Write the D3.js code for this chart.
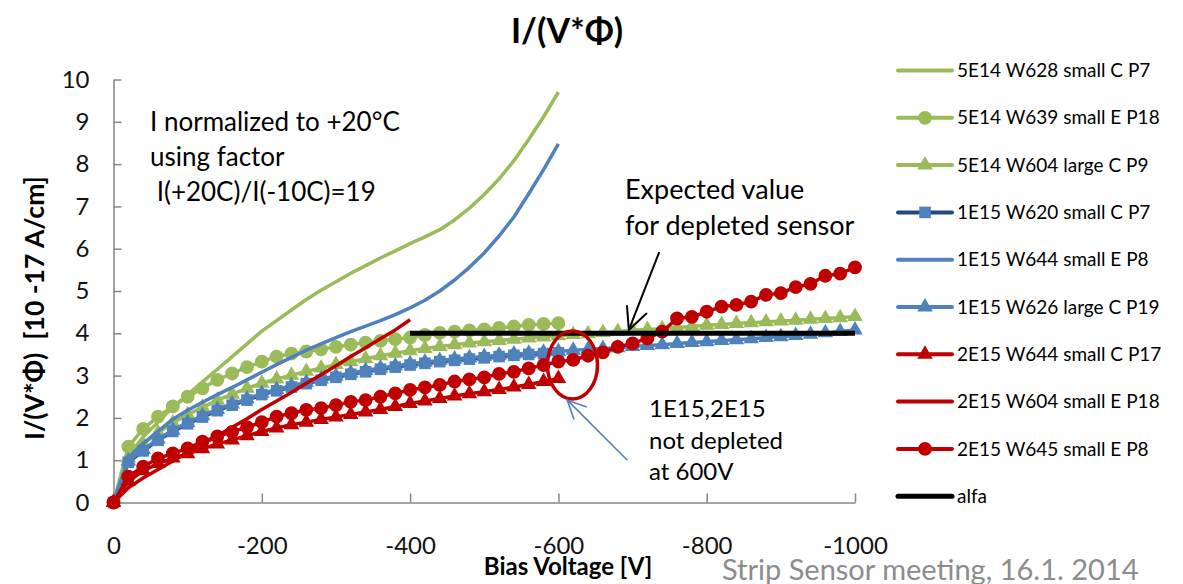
<!DOCTYPE html>
<html>
<head>
<meta charset="utf-8">
<script src="https://cdn.jsdelivr.net/npm/d3@7"></script>
<style>
  body { margin: 0; background: #fff; }
  text { font-family: Lato, "Open Sans", sans-serif; }
</style>
</head>
<body>
<div id="chart"></div>
<script>
// Bias voltage grid (V), every 20 V
const volts = [0, -20, -40, -60, -80, -100, -120, -140, -160, -180, -200, -220, -240, -260, -280, -300,
  -320, -340, -360, -380, -400, -420, -440, -460, -480, -500, -520, -540, -560, -580, -600,
  -620, -640, -660, -680, -700, -720, -740, -760, -780, -800, -820, -840, -860, -880, -900,
  -920, -940, -960, -980, -1000];

// I/(V*Phi) values, 10^-17 A/cm
const w628_5e14 = [0, 1.1, 1.55, 1.9, 2.25, 2.55, 2.85, 3.15, 3.45, 3.75, 4.05, 4.3, 4.55, 4.8, 5.02, 5.22,
  5.42, 5.6, 5.78, 5.95, 6.12, 6.28, 6.45, 6.68, 6.96, 7.28, 7.65, 8.08, 8.58, 9.12, 9.7];
const w639_5e14 = [0, 1.32, 1.74, 2.03, 2.27, 2.5, 2.7, 2.9, 3.05, 3.2, 3.33, 3.45, 3.52, 3.57, 3.62, 3.68,
  3.73, 3.78, 3.82, 3.86, 3.9, 3.96, 4.01, 4.04, 4.07, 4.09, 4.13, 4.16, 4.2, 4.22, 4.24];
const w604_5e14 = [0, 1.05, 1.38, 1.65, 1.88, 2.08, 2.25, 2.42, 2.56, 2.7, 2.82, 2.92, 3.01, 3.1, 3.18, 3.26,
  3.33, 3.4, 3.47, 3.53, 3.59, 3.64, 3.69, 3.73, 3.77, 3.8, 3.83, 3.86, 3.89, 3.91, 3.94,
  3.97, 3.99, 4.02, 4.04, 4.07, 4.09, 4.11, 4.14, 4.16, 4.19, 4.21, 4.23, 4.25, 4.27, 4.29,
  4.31, 4.33, 4.35, 4.37, 4.4];
const w620_1e15 = [0, 0.95, 1.22, 1.47, 1.68, 1.86, 2.02, 2.17, 2.3, 2.42, 2.55, 2.64, 2.73, 2.81, 2.89, 2.96,
  3.03, 3.09, 3.15, 3.2, 3.25, 3.29, 3.33, 3.36, 3.39, 3.42, 3.45, 3.48, 3.5, 3.52, 3.54];
const w644_1e15 = [0, 1.05, 1.4, 1.68, 1.97, 2.18, 2.37, 2.55, 2.72, 2.9, 3.08, 3.26, 3.43, 3.6, 3.75, 3.9,
  4.04, 4.17, 4.3, 4.44, 4.6, 4.78, 5.0, 5.26, 5.56, 5.9, 6.3, 6.75, 7.3, 7.87, 8.48];
const w626_1e15 = [0, 0.98, 1.25, 1.5, 1.71, 1.89, 2.05, 2.2, 2.33, 2.45, 2.58, 2.67, 2.76, 2.84, 2.92, 2.99,
  3.06, 3.12, 3.18, 3.23, 3.28, 3.32, 3.36, 3.39, 3.42, 3.45, 3.48, 3.51, 3.53, 3.55, 3.57,
  3.6, 3.62, 3.64, 3.66, 3.69, 3.71, 3.73, 3.76, 3.78, 3.8, 3.83, 3.85, 3.87, 3.9, 3.92,
  3.95, 3.98, 4.01, 4.04, 4.08];
const w644_2e15 = [0, 0.5, 0.75, 0.92, 1.05, 1.15, 1.27, 1.38, 1.48, 1.58, 1.68, 1.76, 1.84, 1.9, 1.96, 2.02,
  2.08, 2.14, 2.2, 2.27, 2.34, 2.4, 2.46, 2.52, 2.57, 2.62, 2.67, 2.73, 2.79, 2.86, 2.93];
const w604_2e15 = [0, 0.35, 0.58, 0.78, 0.98, 1.18, 1.38, 1.58, 1.78, 1.98, 2.2, 2.4, 2.6, 2.82, 3.02, 3.23,
  3.45, 3.66, 3.87, 4.08, 4.32];
const w645_2e15 = [0, 0.61, 0.85, 1.04, 1.16, 1.28, 1.44, 1.56, 1.67, 1.78, 1.9, 2.03, 2.11, 2.19, 2.23, 2.3,
  2.38, 2.42, 2.5, 2.58, 2.66, 2.72, 2.78, 2.86, 2.91, 2.96, 3.04, 3.09, 3.17, 3.25, 3.33,
  3.37, 3.47, 3.55, 3.68, 3.76, 3.88, 4.04, 4.35, 4.39, 4.51, 4.63, 4.67, 4.75, 4.91, 4.95,
  5.09, 5.17, 5.36, 5.41, 5.56];
const alfaVolts = [-400, -1000];
const alfaValues = [4, 4];

const seriesNames = ["5E14 W628 small C P7", "5E14 W639 small E P18", "5E14 W604 large C P9",
  "1E15 W620 small C P7", "1E15 W644 small E P8", "1E15 W626 large C P19",
  "2E15 W644 small C P17", "2E15 W604 small E P18", "2E15 W645 small E P8", "alfa"];

const xTicks = [0, -200, -400, -600, -800, -1000];
const yTicks = [0, 1, 2, 3, 4, 5, 6, 7, 8, 9, 10];

// colours
const green = "#9bbb59", blue = "#4f81bd", navy = "#1f497d", red = "#c00000";

const series = [
  { name: seriesNames[0], x: volts, y: w628_5e14, line: green, marker: null },
  { name: seriesNames[1], x: volts, y: w639_5e14, line: green, marker: "circle", fill: green },
  { name: seriesNames[2], x: volts, y: w604_5e14, line: green, marker: "triangle", fill: green },
  { name: seriesNames[3], x: volts, y: w620_1e15, line: navy, marker: "square", fill: blue },
  { name: seriesNames[4], x: volts, y: w644_1e15, line: blue, marker: null },
  { name: seriesNames[5], x: volts, y: w626_1e15, line: blue, marker: "triangle", fill: blue },
  { name: seriesNames[6], x: volts, y: w644_2e15, line: red, marker: "triangle", fill: red },
  { name: seriesNames[7], x: volts, y: w604_2e15, line: red, marker: null },
  { name: seriesNames[8], x: volts, y: w645_2e15, line: red, marker: "circle", fill: red },
  { name: seriesNames[9], x: alfaVolts, y: alfaValues, line: "#000", marker: null, width: 5 }
];

const width = 1183;
const height = 584;

const svg = d3.select("#chart").append("svg")
  .attr("width", width)
  .attr("height", height)
  .style("background", "#fff");

// scales
const xscale = d3.scaleLinear().domain([0, -1000]).range([113.5, 855]);
const yscale = d3.scaleLinear().domain([0, 10]).range([502.5, 79.5]);

// axes (ticks point inwards, like the Excel chart)
const yAxis = svg.append("g")
  .attr("transform", `translate(${xscale(0)},0)`)
  .call(d3.axisLeft(yscale).tickValues(yTicks).tickSizeInner(-8).tickSizeOuter(0).tickPadding(24));
const xAxis = svg.append("g")
  .attr("transform", `translate(0,${yscale(0)})`)
  .call(d3.axisBottom(xscale).tickValues(xTicks).tickSizeInner(-9).tickSizeOuter(0).tickPadding(34)
    .tickFormat(d => d === 0 ? "0" : String(d)));

for (const ax of [xAxis, yAxis]) {
  ax.select(".domain").attr("stroke", "#868686").attr("stroke-width", 1.5);
  ax.selectAll(".tick line").attr("stroke", "#868686").attr("stroke-width", 1.5);
  ax.selectAll(".tick text").attr("fill", "#111").style("font-size", "24px").style("font-family", "Lato");
}

// marker shapes
const symbolFor = { circle: d3.symbolCircle, triangle: d3.symbolTriangle, square: d3.symbolSquare };
const sizeFor = { circle: 150, triangle: 105, square: 135 };

const lineGen = (s) => d3.line()
  .x((v, i) => xscale(s.x[i]))
  .y(v => yscale(v));

const plot = svg.append("g");
for (const s of series) {
  plot.append("path")
    .attr("d", lineGen(s)(s.y))
    .attr("fill", "none")
    .attr("stroke", s.line)
    .attr("stroke-width", s.width || 3.5)
    .attr("stroke-linejoin", "round");
  if (s.marker) {
    plot.selectAll(null)
      .data(s.y)
      .join("path")
      .attr("transform", (v, i) => `translate(${xscale(s.x[i])},${yscale(v)})`)
      .attr("d", d3.symbol(symbolFor[s.marker], sizeFor[s.marker]))
      .attr("fill", s.fill);
  }
}

// annotations
const ann = svg.append("g");

// red ellipse around the 600 V end points
ann.append("ellipse")
  .attr("cx", xscale(-619)).attr("cy", yscale(3.25))
  .attr("rx", 25).attr("ry", 34)
  .attr("fill", "none").attr("stroke", red).attr("stroke-width", 3.5);

function arrow(x0, y0, x1, y1, colour, w, len) {
  const a = Math.atan2(y1 - y0, x1 - x0);
  ann.append("line").attr("x1", x0).attr("y1", y0).attr("x2", x1).attr("y2", y1)
    .attr("stroke", colour).attr("stroke-width", w);
  for (const da of [0.45, -0.45]) {
    ann.append("line")
      .attr("x1", x1).attr("y1", y1)
      .attr("x2", x1 - len * Math.cos(a + da)).attr("y2", y1 - len * Math.sin(a + da))
      .attr("stroke", colour).attr("stroke-width", w).attr("stroke-linecap", "round");
  }
}
arrow(xscale(-736), yscale(5.92), xscale(-695), yscale(4.08), "#000", 2, 24);
arrow(xscale(-693), yscale(1.0), xscale(-612), yscale(2.42), blue, 1.6, 20);

const note1 = ["I normalized to +20°C", "using factor", " I(+20C)/I(-10C)=19"];
ann.selectAll(null).data(note1).join("text")
  .attr("x", 150).attr("y", (d, i) => 131 + i * 35)
  .style("font-size", "26px").style("white-space", "pre").attr("fill", "#000")
  .text(d => d);

const note2 = ["Expected value", "for depleted sensor"];
ann.selectAll(null).data(note2).join("text")
  .attr("x", 625).attr("y", (d, i) => 199 + i * 36)
  .style("font-size", "27px").attr("fill", "#000")
  .text(d => d);

const note3 = ["1E15,2E15", "not depleted", "at 600V"];
ann.selectAll(null).data(note3).join("text")
  .attr("x", 649).attr("y", (d, i) => 417 + i * 31.5)
  .style("font-size", "24px").attr("fill", "#000")
  .text(d => d);

// title and axis labels
svg.append("text")
  .attr("x", 567).attr("y", 43).attr("text-anchor", "middle")
  .style("font-size", "34px").style("font-weight", "bold")
  .text("I/(V*Φ)");

svg.append("text")
  .attr("transform", "translate(44,308) rotate(-90)")
  .attr("text-anchor", "middle")
  .style("font-size", "26.5px").style("font-weight", "bold").style("white-space", "pre")
  .text("I/(V*Φ)  [10 -17 A/cm]");

svg.append("text")
  .attr("x", 568).attr("y", 575).attr("text-anchor", "middle")
  .style("font-size", "24px").style("font-weight", "bold")
  .text("Bias Voltage [V]");

svg.append("text")
  .attr("x", 722).attr("y", 580)
  .style("font-size", "29px").attr("fill", "#8c8c8c")
  .text("Strip Sensor meeting, 16.1. 2014");

// legend
const legend = svg.append("g");
series.forEach((s, i) => {
  const ly = 70.5 + i * 47.3;
  legend.append("line")
    .attr("x1", 898).attr("x2", 952).attr("y1", ly).attr("y2", ly)
    .attr("stroke", s.line).attr("stroke-width", s.width || 4).attr("stroke-linecap", "round");
  if (s.marker) {
    legend.append("path")
      .attr("transform", `translate(925,${ly})`)
      .attr("d", d3.symbol(symbolFor[s.marker], sizeFor[s.marker]))
      .attr("fill", s.fill);
  }
  legend.append("text")
    .attr("x", 957).attr("y", ly).attr("dy", "0.35em")
    .style("font-size", "19px")
    .text(s.name);
});
</script>
</body>
</html>
